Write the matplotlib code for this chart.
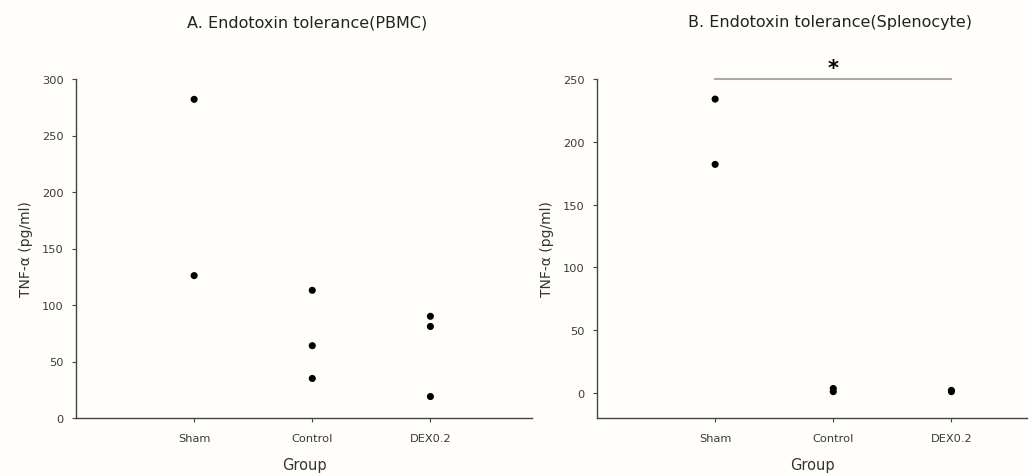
import matplotlib
matplotlib.use("Agg")
import matplotlib.pyplot as plt

plt.rcParams['font.family'] = ['DejaVu Sans']

groups = ["Sham", "Control", "DEX0.2"]
pbmc_sham = [282, 126]
pbmc_control = [113, 64, 35]
pbmc_dex = [90, 81, 19]
spleno_sham = [234, 182]
spleno_control = [3.5, 1.0]
spleno_dex = [2.0, 1.0]
yticks_a = [0, 50, 100, 150, 200, 250, 300]
yticks_b = [0, 50, 100, 150, 200, 250]

bg = '#fffefa'
W, H = 1030, 477
fig = plt.figure(figsize=(W / 100, H / 100), dpi=100, facecolor=bg)

def px(x0, y0, x1, y1):
    return [x0 / W, 1 - y1 / H, (x1 - x0) / W, (y1 - y0) / H]

axA = fig.add_axes(px(76, 80, 532, 419))
axB = fig.add_axes(px(597, 80, 1027, 419))

spine_c = '#444444'
tick_c = '#3a3a3a'

def style(ax):
    ax.set_facecolor(bg)
    for s in ['top', 'right']:
        ax.spines[s].set_visible(False)
    for s in ['left', 'bottom']:
        ax.spines[s].set_color(spine_c)
        ax.spines[s].set_linewidth(1.0)
    ax.tick_params(axis='both', direction='out', length=3, width=0.8,
                   color=spine_c, labelcolor=tick_c, labelsize=8.2)
    ax.tick_params(axis='y', pad=6)
    ax.tick_params(axis='x', pad=8)
    ax.set_xticks([1, 2, 3])
    ax.set_xticklabels(groups)
    ax.set_xlabel("Group", fontsize=10.5, color='#333333', labelpad=10)
    ax.set_ylabel("TNF-α (pg/ml)", fontsize=10, color='#333333', labelpad=6)

def plot_group(ax, xpos, vals):
    ax.scatter([xpos] * len(vals), vals, s=26, color='black', zorder=3,
               edgecolors='none', clip_on=False)

style(axA)
plot_group(axA, 1, pbmc_sham)
plot_group(axA, 2, pbmc_control)
plot_group(axA, 3, pbmc_dex)
axA.set_xlim(0, 3.86)
axA.set_ylim(0, 300)
axA.set_yticks(yticks_a)

style(axB)
plot_group(axB, 1, spleno_sham)
plot_group(axB, 2, spleno_control)
plot_group(axB, 3, spleno_dex)
axB.set_xlim(0, 3.64)
axB.set_ylim(-20, 250)
axB.set_yticks(yticks_b)
axB.plot([1, 3], [250, 250], color='#aaaaaa', lw=1.5, zorder=2, clip_on=False)
axB.text(2, 251, "*", ha='center', va='bottom', fontsize=15,
         fontweight='bold', color='black')

fig.text(307 / W, 1 - 27 / H, "A. Endotoxin tolerance(PBMC)", ha='center',
         va='baseline', fontsize=11.5, color='#222222')
fig.text(830 / W, 1 - 27 / H, "B. Endotoxin tolerance(Splenocyte)", ha='center',
         va='baseline', fontsize=11.5, color='#222222')

fig.savefig("out.png", dpi=100, facecolor=bg)
